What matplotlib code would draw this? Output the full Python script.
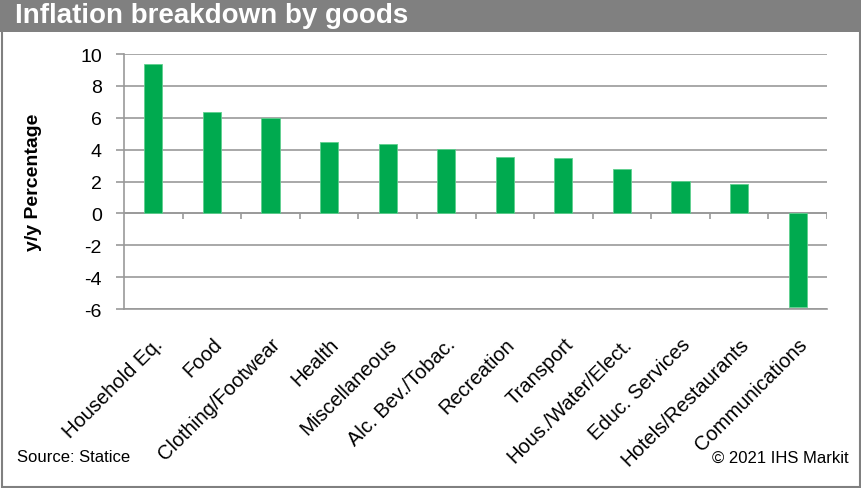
"""Inflation breakdown by goods - bar chart."""

import matplotlib.pyplot as plt
import numpy as np
from matplotlib.patches import Rectangle

plt.rcParams['font.family'] = ['Liberation Sans', 'DejaVu Sans']
plt.rcParams['axes.unicode_minus'] = False

categories = [
    "Household Eq.", "Food", "Clothing/Footwear", "Health", "Miscellaneous",
    "Alc. Bev./Tobac.", "Recreation", "Transport", "Hous./Water/Elect.",
    "Educ. Services", "Hotels/Restaurants", "Communications",
]
values = [9.35, 6.35, 5.97, 4.45, 4.34, 4.07, 3.55, 3.46, 2.77, 2.06, 1.84, -5.87]
yticks = [-6, -4, -2, 0, 2, 4, 6, 8, 10]

GREEN = "#00AA4F"
GRID = "#999999"
BAR_GREY = "#808080"

fig = plt.figure(figsize=(8.62, 4.89), dpi=100)
ax = fig.add_axes([0.1439, 0.366, 0.8155, 0.5215])

x = np.arange(len(categories))
ax.bar(x, values, width=0.31, color=GREEN, edgecolor="#5FD08F", linewidth=0.6, zorder=3)

ax.set_xlim(-0.5, len(categories) - 0.5)
ax.set_ylim(-6, 10)
ax.set_yticks(yticks)
ax.yaxis.grid(True, color=GRID, linewidth=1.2, zorder=0)
ax.tick_params(axis="y", labelsize=14, length=6, color=GRID, width=1.2, pad=10)

# zero line with category separators
ax.axhline(0, color=GRID, linewidth=1.2, zorder=2)
bounds = np.arange(len(categories)) + 0.5
ax.vlines(bounds, -0.35, 0, color=GRID, linewidth=1.2, zorder=2)

ax.set_xticks(x)
ax.set_xticklabels(categories, rotation=45, ha="right", rotation_mode="anchor", fontsize=14.5)
ax.tick_params(axis="x", length=0, pad=18)

for s in ["top", "right"]:
    ax.spines[s].set_visible(False)
for s in ["left", "bottom"]:
    ax.spines[s].set_color(GRID)
    ax.spines[s].set_linewidth(1.2)

ax.set_ylabel("y/y Percentage", fontsize=14, fontweight="bold")
ax.yaxis.set_label_coords(-0.117, 0.5)

# title band and frame
fig.patches.append(Rectangle((0, 1 - 33 / 489), 1, 33 / 489, transform=fig.transFigure,
                             facecolor=BAR_GREY, edgecolor="none", zorder=0))
fig.patches.append(Rectangle((0.002, 0.003), 0.996, 0.994, transform=fig.transFigure,
                             facecolor="none", edgecolor=BAR_GREY, linewidth=1.5, zorder=1))
fig.text(0.017, 1 - 16 / 489, "Inflation breakdown by goods", color="white",
         fontsize=20, fontweight="bold", va="center", ha="left")

fig.text(0.02, 1 - 458 / 489, "Source: Statice", fontsize=12, va="center", ha="left")
fig.text(0.984, 1 - 458 / 489, "\u00a9 2021 IHS Markit", fontsize=12, va="center", ha="right")

plt.savefig("out.png", dpi=100)
